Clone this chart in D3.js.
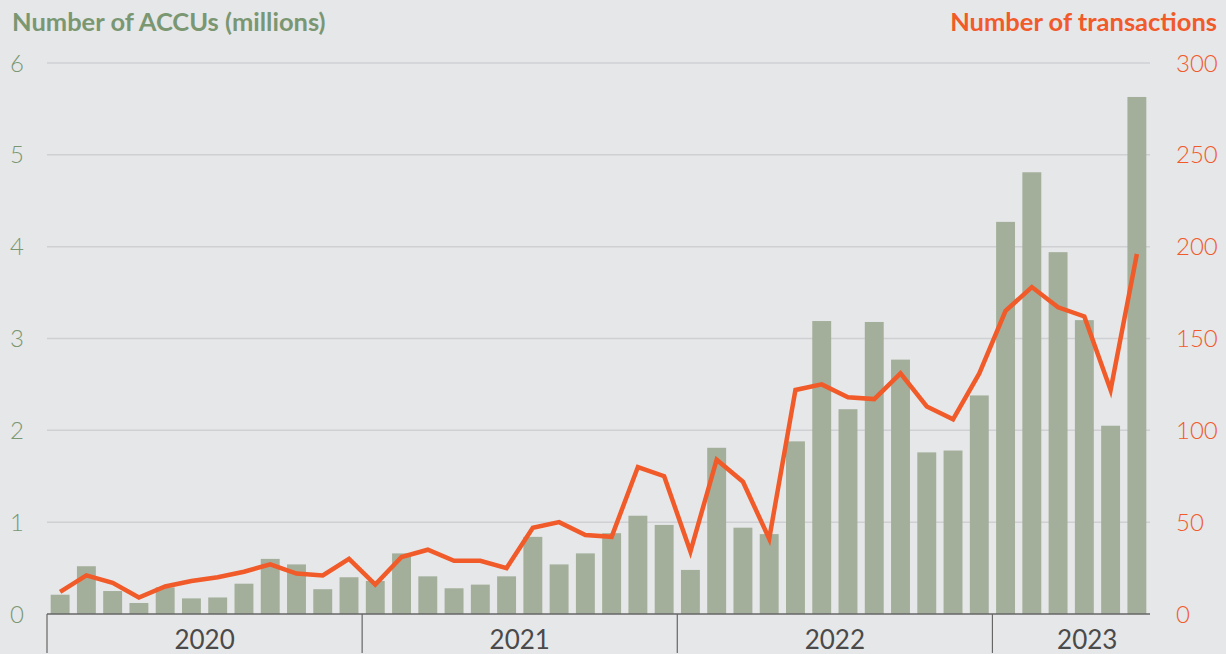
<!DOCTYPE html>
<html>
<head>
<meta charset="utf-8">
<script src="https://cdn.jsdelivr.net/npm/d3@7"></script>
<style>
  html, body { margin: 0; padding: 0; background: #e6e7e9; }
  svg { display: block; font-family: Lato, "Open Sans", sans-serif; }
</style>
</head>
<body>
<svg class="chart"></svg>
<script>
var months = ["2020-01","2020-02","2020-03","2020-04","2020-05","2020-06","2020-07","2020-08","2020-09","2020-10","2020-11","2020-12",
              "2021-01","2021-02","2021-03","2021-04","2021-05","2021-06","2021-07","2021-08","2021-09","2021-10","2021-11","2021-12",
              "2022-01","2022-02","2022-03","2022-04","2022-05","2022-06","2022-07","2022-08","2022-09","2022-10","2022-11","2022-12",
              "2023-01","2023-02","2023-03","2023-04","2023-05","2023-06"]

// ACCUs transferred, millions
var accus = [0.21,0.52,0.25,0.12,0.29,0.17,0.18,0.33,0.60,0.54,0.27,0.40,
             0.36,0.66,0.41,0.28,0.32,0.41,0.84,0.54,0.66,0.88,1.07,0.97,
             0.48,1.81,0.94,0.87,1.88,3.19,2.23,3.18,2.77,1.76,1.78,2.38,
             4.27,4.81,3.94,3.20,2.05,5.63]

// number of transactions
var transactions = [12,21,17,9,15,18,20,23,27,22,21,30,
                    16,31,35,29,29,25,47,50,43,42,80,75,
                    34,84,72,41,122,125,118,117,131,113,106,131,
                    165,178,167,162,122,196]

var years = ["2020","2021","2022","2023"]
var leftTicks = [0,1,2,3,4,5,6]
var rightTicks = [0,50,100,150,200,250,300]

var W = 1226, H = 654
var margin = {top: 63, right: 76, bottom: 40, left: 47}
var width = W - margin.left - margin.right,
    height = H - margin.top - margin.bottom

var green = "#7a9772", orange = "#f15a29", barColor = "#a3af9a"

var svg = d3.select(".chart").attr("width", W).attr("height", H)

svg.append("rect").attr("width", W).attr("height", H).attr("fill", "#e6e7e9")

var x = d3.scaleBand().domain(months).range([0, width]).paddingInner(0.28).paddingOuter(0.14)
var yL = d3.scaleLinear().domain([0, 6]).range([height, 0])
var yR = d3.scaleLinear().domain([0, 300]).range([height, 0])

var g = svg.append("g").attr("transform", "translate(" + margin.left + "," + margin.top + ")")

// gridlines
g.selectAll(".grid").data(leftTicks.slice(1))
  .enter().append("line")
  .attr("x1", 0).attr("x2", width)
  .attr("y1", function(d) { return yL(d) })
  .attr("y2", function(d) { return yL(d) })
  .attr("stroke", "#cfd0d3").attr("stroke-width", 1.5)

// left tick labels
g.selectAll(".ltick").data(leftTicks)
  .enter().append("text")
  .attr("x", -23).attr("y", function(d) { return yL(d) })
  .attr("dy", "0.36em").attr("text-anchor", "end")
  .attr("fill", green).attr("font-size", 24).attr("font-weight", 300)
  .text(function(d) { return d })

// right tick labels
g.selectAll(".rtick").data(rightTicks)
  .enter().append("text")
  .attr("x", width + 26).attr("y", function(d) { return yR(d) })
  .attr("dy", "0.36em").attr("text-anchor", "start")
  .attr("fill", orange).attr("font-size", 24).attr("font-weight", 300)
  .text(function(d) { return d })

// bars
g.selectAll(".bar").data(months)
  .enter().append("rect")
  .attr("x", function(d) { return x(d) })
  .attr("width", x.bandwidth())
  .attr("y", function(d, i) { return yL(accus[i]) })
  .attr("height", function(d, i) { return height - yL(accus[i]) })
  .attr("fill", barColor)

// line
var line = d3.line()
  .x(function(d, i) { return x(months[i]) + x.bandwidth() / 2 })
  .y(function(d) { return yR(d) })

g.append("path").datum(transactions)
  .attr("d", line)
  .attr("fill", "none")
  .attr("stroke", orange).attr("stroke-width", 4.5)
  .attr("stroke-linejoin", "miter")

// x axis baseline
g.append("line")
  .attr("x1", 0).attr("x2", width)
  .attr("y1", height).attr("y2", height)
  .attr("stroke", "#666").attr("stroke-width", 1.5)

// year separators and labels
var gap = x.step() - x.bandwidth()
years.forEach(function(yr, i) {
  var start = i == 0 ? 0 : x(yr + "-01") - gap / 2
  var end = i < years.length - 1 ? x(years[i + 1] + "-01") - gap / 2 : width + 32
  g.append("line")
    .attr("x1", start).attr("x2", start)
    .attr("y1", height).attr("y2", height + 39)
    .attr("stroke", "#666").attr("stroke-width", 1.2)
  g.append("text")
    .attr("x", (start + end) / 2).attr("y", height + 35)
    .attr("text-anchor", "middle")
    .attr("fill", "#4a4a4a").attr("font-size", 26)
    .text(yr)
})

// axis titles
svg.append("text")
  .attr("x", 12).attr("y", 31)
  .attr("fill", green).attr("font-size", 25.5).attr("font-weight", 700)
  .text("Number of ACCUs (millions)")

svg.append("text")
  .attr("x", 1217).attr("y", 31).attr("text-anchor", "end")
  .attr("fill", orange).attr("font-size", 25.5).attr("font-weight", 700)
  .text("Number of transactions")
</script>
</body>
</html>
